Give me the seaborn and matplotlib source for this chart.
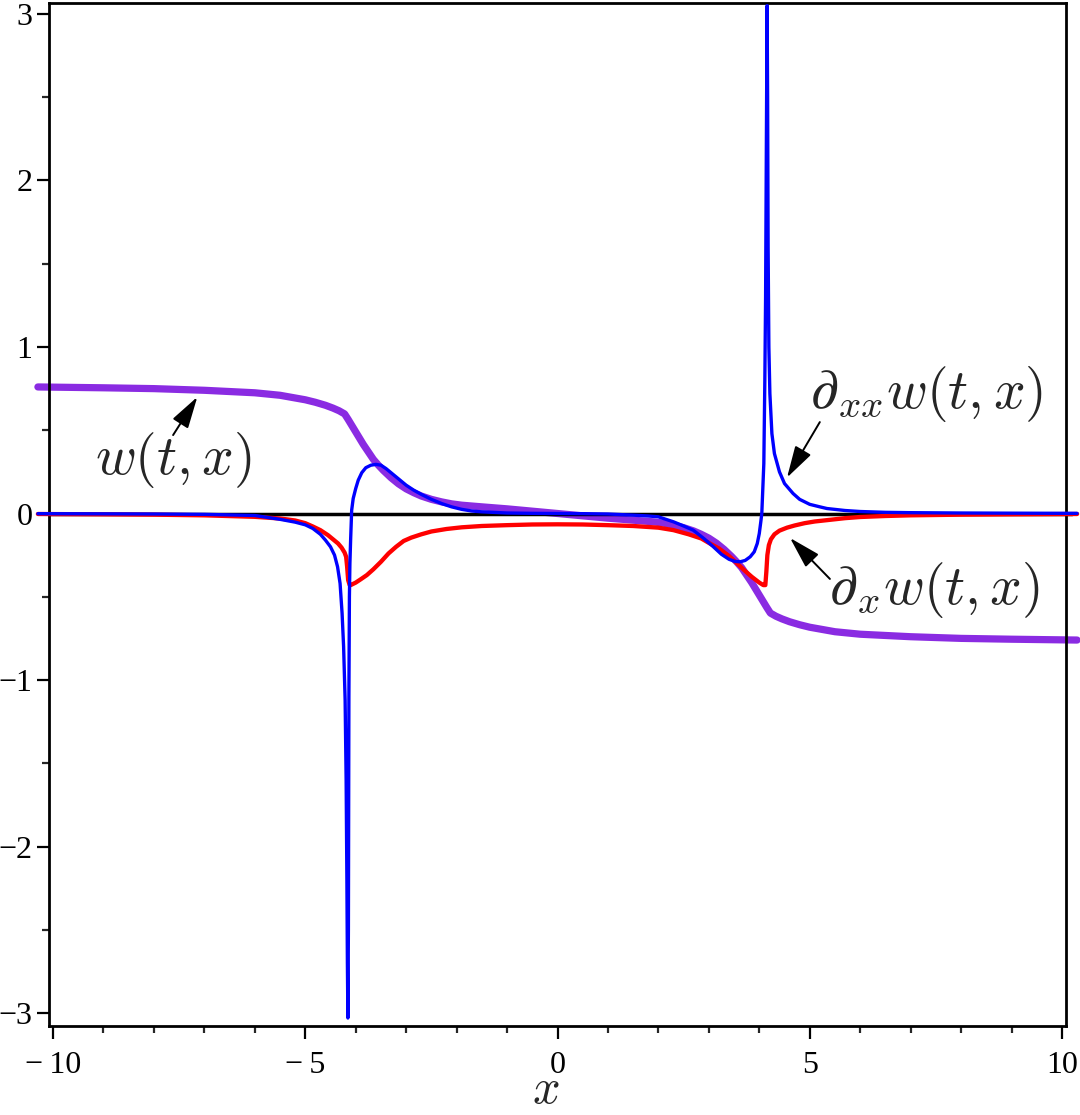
import matplotlib
matplotlib.use("Agg")
import matplotlib.pyplot as plt
import seaborn as sns
import pandas as pd

# ---------------- data ----------------
w_x = [-10.3, -9.0, -8.0, -7.0, -6.0, -5.5, -5.0, -4.8, -4.6, -4.45, -4.33,
       -4.22, -4.15, -4.05, -3.95, -3.85, -3.75, -3.65, -3.55, -3.45, -3.3,
       -3.15, -3.0, -2.85, -2.7, -2.5, -2.3, -2.1, -1.9, -1.5, -1.0, -0.5, 0.0,
       0.5, 1.0, 1.5, 1.9, 2.1, 2.3, 2.5, 2.7, 2.85, 3.0, 3.15, 3.3, 3.45,
       3.55, 3.65, 3.75, 3.85, 3.95, 4.05, 4.15, 4.22, 4.33, 4.45, 4.6, 4.8,
       5.0, 5.5, 6.0, 7.0, 8.0, 9.0, 10.3]
w_y = [0.76, 0.755, 0.75, 0.74, 0.725, 0.71, 0.683, 0.668, 0.65, 0.633, 0.617,
       0.598, 0.565, 0.515, 0.465, 0.415, 0.37, 0.325, 0.29, 0.258, 0.215,
       0.178, 0.148, 0.125, 0.105, 0.085, 0.07, 0.058, 0.05, 0.04, 0.028,
       0.014, 0.0,
       -0.014, -0.028, -0.04, -0.05, -0.058, -0.07, -0.085, -0.105, -0.125,
       -0.148, -0.178, -0.215, -0.258, -0.29, -0.325, -0.37, -0.415, -0.465,
       -0.515, -0.565, -0.598, -0.617, -0.633, -0.65, -0.668, -0.683, -0.71,
       -0.725, -0.74, -0.75, -0.755, -0.76]

dx_x = [-10.3, -9.0, -8.0, -7.0, -6.0, -5.5, -5.2, -5.0, -4.85, -4.7, -4.55,
        -4.45, -4.35, -4.28, -4.22, -4.19, -4.17, -4.15, -4.12, -4.1, -4.0,
        -3.9, -3.78, -3.65, -3.5, -3.35, -3.2, -3.05, -2.9, -2.7, -2.5, -2.2,
        -1.9, -1.5, -1.0, -0.5, 0.0,
        0.5, 1.0, 1.5, 2.0, 2.3, 2.6, 2.85, 3.02, 3.2, 3.4, 3.56, 3.7, 3.85,
        4.0, 4.08, 4.12, 4.14, 4.16, 4.19, 4.23, 4.3, 4.4, 4.55, 4.7, 4.9,
        5.1, 5.34, 5.7, 6.0, 6.5, 7.0, 8.0, 9.0, 10.3]
dx_y = [-0.003, -0.005, -0.007, -0.011, -0.02, -0.03, -0.042, -0.058, -0.078,
        -0.1, -0.13, -0.155, -0.18, -0.205, -0.235, -0.26, -0.32, -0.40,
        -0.43, -0.43, -0.415, -0.395, -0.37, -0.335, -0.29, -0.24, -0.2,
        -0.165, -0.145, -0.125, -0.108, -0.093, -0.083, -0.075, -0.07,
        -0.066, -0.065,
        -0.066, -0.07, -0.075, -0.085, -0.1, -0.125, -0.15, -0.18, -0.21,
        -0.255, -0.30, -0.34, -0.38, -0.415, -0.43, -0.43, -0.35, -0.25,
        -0.19, -0.155, -0.125, -0.103, -0.085, -0.072, -0.058, -0.048, -0.04,
        -0.028, -0.021, -0.015, -0.011, -0.007, -0.005, -0.003]

dxx_x = [-10.3, -9.0, -8.0, -7.0, -6.0, -5.5, -5.2, -5.0, -4.85, -4.7, -4.6,
         -4.5, -4.42, -4.36, -4.31, -4.27, -4.24, -4.21, -4.19, -4.175,
         -4.165, -4.155, -4.145, -4.14, -4.135, -4.125, -4.115, -4.1, -4.08,
         -4.05, -4.0, -3.95, -3.88, -3.8, -3.7, -3.6, -3.5, -3.4, -3.3, -3.2,
         -3.1, -3.0, -2.85, -2.7, -2.5, -2.3, -2.1, -1.9, -1.7, -1.5, -1.0,
         -0.5, 0.0,
         0.5, 1.0, 1.5, 1.8, 2.0, 2.3, 2.5, 2.69, 2.9, 3.09, 3.25, 3.4, 3.52,
         3.62, 3.72, 3.82, 3.9, 3.96, 4.0, 4.03, 4.05, 4.09, 4.11, 4.125,
         4.14, 4.155, 4.165, 4.175, 4.19, 4.21, 4.25, 4.3, 4.4, 4.5, 4.67,
         4.8, 5.0, 5.2, 5.34, 5.7, 6.0, 6.5, 7.0, 8.0, 9.0, 10.3]
dxx_y = [-0.001, -0.002, -0.003, -0.005, -0.012, -0.035, -0.052, -0.068,
         -0.09, -0.125, -0.16, -0.2, -0.25, -0.32, -0.42, -0.60, -0.80, -1.12,
         -1.6, -2.2, -2.7, -3.03, -2.5, -1.8, -1.1, -0.5, -0.3, -0.15, 0.02,
         0.09, 0.15, 0.2, 0.245, 0.275, 0.29, 0.295, 0.29, 0.27, 0.245, 0.22,
         0.195, 0.17, 0.14, 0.115, 0.085, 0.06, 0.04, 0.025, 0.015, 0.01,
         0.003, 0.001, 0.0,
         -0.001, -0.003, -0.01, -0.015, -0.02, -0.05, -0.075, -0.10, -0.15,
         -0.20, -0.245, -0.275, -0.288, -0.29, -0.282, -0.26, -0.23, -0.18,
         -0.12, -0.05, 0.0, 0.3, 0.8, 1.3, 2.2, 3.05, 2.5, 1.6, 1.0, 0.72,
         0.48, 0.36, 0.25, 0.18, 0.12, 0.085, 0.055, 0.04, 0.03, 0.018, 0.012,
         0.007, 0.005, 0.003, 0.002, 0.001]

x_major = [-10, -5, 0, 5, 10]
x_labels = ["\u2212\u200910", "\u2212\u20095", "0", "5", "10"]
y_major = [-3, -2, -1, 0, 1, 2, 3]
y_labels = ["\u22123", "\u22122", "\u22121", "0", "1", "2", "3"]
label_w = r"$w(t,x)$"
label_dx = r"$\partial_{x}w(t,x)$"
label_dxx = r"$\partial_{xx}w(t,x)$"

# ---------------- style ----------------
sns.set_style("ticks")
plt.rcParams["font.family"] = ["Liberation Serif", "DejaVu Serif"]
plt.rcParams["mathtext.fontset"] = "cm"
plt.rcParams["axes.unicode_minus"] = True

fig = plt.figure(figsize=(10.8, 11.15), dpi=100)
ax = fig.add_axes([49 / 1080, 89 / 1115, 1017 / 1080, 1023 / 1115])

df_w = pd.DataFrame({"x": w_x, "y": w_y})
df_dx = pd.DataFrame({"x": dx_x, "y": dx_y})
df_dxx = pd.DataFrame({"x": dxx_x, "y": dxx_y})

sns.lineplot(data=df_w, x="x", y="y", sort=False, estimator=None,
             color="#8A2BE2", lw=5.2, ax=ax, zorder=2)
ax.lines[-1].set_clip_on(False)
ax.axhline(0, xmin=0, xmax=1.006, color="black", lw=2.5, zorder=3,
           clip_on=False)
sns.lineplot(data=df_dx, x="x", y="y", sort=False, estimator=None,
             color="#FF0000", lw=3.1, ax=ax, zorder=4)
ax.lines[-1].set_clip_on(False)
sns.lineplot(data=df_dxx, x="x", y="y", sort=False, estimator=None,
             color="#0000FF", lw=2.4, ax=ax, zorder=5)
ax.lines[-1].set_clip_on(False)

ax.set_xlim(-10.08, 10.08)
ax.set_ylim(-3.078, 3.066)
ax.set_xticks(x_major)
ax.set_xticklabels(x_labels)
ax.set_yticks(y_major)
ax.set_yticklabels(y_labels)
ax.set_xticks([v for v in range(-10, 11) if v % 5 != 0], minor=True)
ax.set_yticks([v + 0.5 for v in range(-3, 3)], minor=True)
ax.tick_params(axis="both", which="major", direction="out", length=9,
               width=1.6, labelsize=23, colors="black")
ax.tick_params(axis="both", which="minor", direction="out", length=5,
               width=1.6)
ax.tick_params(axis="x", which="major", pad=9)
ax.tick_params(axis="y", which="major", pad=3)
for s in ax.spines.values():
    s.set_linewidth(2.0)
    s.set_color("black")
    s.set_visible(True)

ax.set_xlabel(r"$x$", fontsize=35, va="bottom")
ax.xaxis.set_label_coords(0.488, -0.0855)
ax.set_ylabel("")

arrow = dict(arrowstyle="-|>,head_length=0.7,head_width=0.2",
             color="black", lw=1.4, mutation_scale=28, shrinkA=0, shrinkB=0)
ax.annotate("", xy=(-7.14, 0.700), xytext=(-7.62, 0.471), arrowprops=arrow)
ax.annotate("", xy=(4.55, 0.216), xytext=(5.20, 0.549), arrowprops=arrow)
ax.annotate("", xy=(4.61, -0.147), xytext=(5.40, -0.393), arrowprops=arrow)
ax.text(-7.62, 0.321, label_w, fontsize=40, ha="center", va="center")
ax.text(7.32, 0.718, label_dxx, fontsize=40, ha="center", va="center")
ax.text(7.48, -0.459, label_dx, fontsize=40, ha="center", va="center")

fig.savefig("out.png", dpi=100)
